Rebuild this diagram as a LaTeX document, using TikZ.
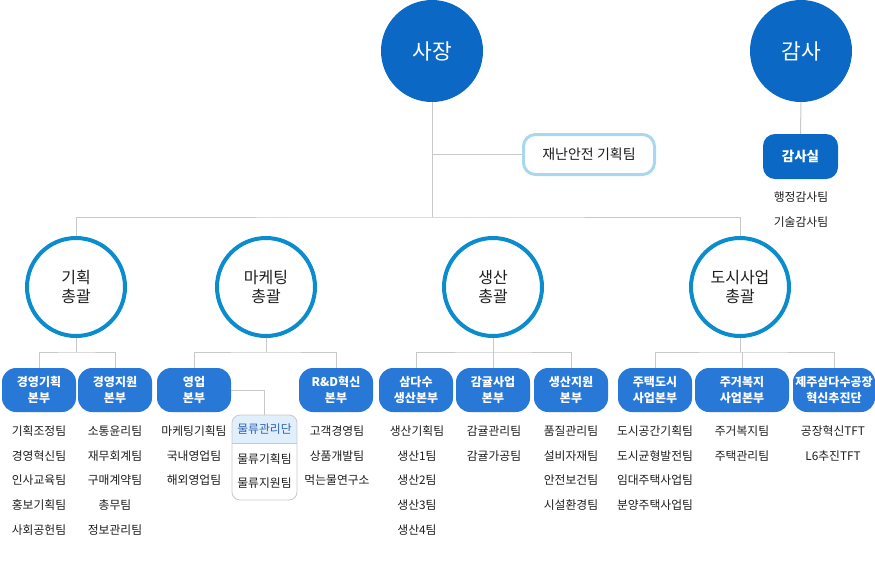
\documentclass[tikz,border=0pt]{standalone}
\usepackage{fontspec}
\setmainfont{Noto Sans CJK KR}
\usepackage{tikz}
\usetikzlibrary{positioning,calc}

\definecolor{ceoblue}{HTML}{0B68C4}
\definecolor{hqblue}{HTML}{2878D8}
\definecolor{ringblue}{HTML}{0A8CCD}
\definecolor{skyline}{HTML}{A8D8F0}
\definecolor{wire}{HTML}{C8C8C8}
\definecolor{logifill}{HTML}{E1EEFB}
\definecolor{logitext}{HTML}{2A62B4}
\definecolor{teamtext}{HTML}{1E1E1E}

\tikzset{
    chief/.style={circle, fill=ceoblue, text=white, minimum size=102pt, inner sep=0pt, font=\fontsize{21.5}{26}\selectfont},
    ring/.style={circle, draw=ringblue, line width=4pt, fill=white, minimum size=98pt, inner sep=0pt, align=center, text=teamtext, font=\fontsize{16}{19}\selectfont},
    hq/.style={rectangle, rounded corners=14pt, fill=hqblue, text=white, minimum width=74pt, minimum height=44pt, inner sep=0pt, align=center, font=\fontsize{12}{16}\selectfont\bfseries},
    office/.style={rectangle, rounded corners=12pt, fill=ceoblue, text=white, minimum width=75pt, minimum height=45pt, inner sep=0pt, font=\fontsize{13.5}{16}\selectfont\bfseries},
    safetybox/.style={rectangle, rounded corners=12pt, draw=skyline, line width=3pt, fill=white, minimum width=131pt, minimum height=40pt, inner sep=0pt, text=teamtext, font=\fontsize{14}{16}\selectfont},
    logibox/.style={rectangle, rounded corners=8pt, draw=wire, line width=0.8pt, minimum width=65pt, minimum height=85pt, inner sep=0pt},
    logihead/.style={inner sep=0pt, text=logitext, font=\fontsize{11.8}{14}\selectfont},
    team/.style={inner sep=0pt, text=teamtext, font=\fontsize{11.8}{14}\selectfont},
    link/.style={draw=wire, line width=1pt}
}

\begin{document}
\begin{tikzpicture}[x=1pt, y=-1pt]
    \useasboundingbox (0,0) rectangle (875,587);

    % top level
    \node[chief] (ceo) at (432,51) {사장};
    \node[chief] (audit) at (801,51) {감사};
    \node[safetybox] (safety) at (589,154.5) {재난안전 기획팀};
    \node[office] (auditoffice) at (800.5,156.5) {감사실};
    \node[team] (audit-1) at (801,197) {행정감사팀};
    \node[team] (audit-2) at (801,222) {기술감사팀};

    \coordinate (bus) at (432,217);
    \draw[link] (ceo.south) -- (bus);
    \draw[link] (ceo.south |- safety.west) -- (safety.west);
    \draw[link] (audit.south) -- (auditoffice.north);

    % divisions
    \node[ring] (plan) at (76,287) {기획\\총괄};
    \node[ring] (mkt) at (266,287) {마케팅\\총괄};
    \node[ring] (prod) at (493,287) {생산\\총괄};
    \node[ring] (city) at (740,287) {도시사업\\총괄};
    \draw[link] (plan.north) |- (bus) -| (city.north);

    % headquarters
    \node[hq] (mgmtplan) at (39,390) {경영기획\\본부};
    \node[hq] (mgmtsup) at (115,390) {경영지원\\본부};
    \node[hq] (sales) at (194,390) {영업\\본부};
    \node[hq] (rnd) at (336,390) {R\&D혁신\\본부};
    \node[hq] (samdasoo) at (416,390) {삼다수\\생산본부};
    \node[hq] (citrus) at (493,390) {감귤사업\\본부};
    \node[hq] (prodsup) at (571,390) {생산지원\\본부};
    \node[hq] (housing) at (655,390) {주택도시\\사업본부};
    \node[hq, minimum width=94pt] (welfare) at (742,390) {주거복지\\사업본부};
    \node[hq, minimum width=82pt] (factory) at (834,390) {제주삼다수공장\\혁신추진단};

    \coordinate (planfork) at (76,352);
    \coordinate (mktfork) at (266,352);
    \coordinate (prodfork) at (493,352);
    \coordinate (cityfork) at (742,352);
    \draw[link] (plan.south) -- (planfork);
    \draw[link] (mkt.south) -- (mktfork);
    \draw[link] (prod.south) -- (prodfork);
    \draw[link] (city.south) -- (city.south |- cityfork);
    \draw[link] (mgmtplan.north) |- (planfork) -| (mgmtsup.north);
    \draw[link] (sales.north) |- (mktfork) -| (rnd.north);
    \draw[link] (samdasoo.north) |- (prodfork) -| (prodsup.north);
    \draw[link] (citrus.north) -- (prodfork);
    \draw[link] (housing.north) |- (cityfork) -| (factory.north);
    \draw[link] (welfare.north) -- (cityfork);

    % logistics unit
    \begin{scope}
        \clip[rounded corners=8pt] (232,415) rectangle (297,500);
        \fill[logifill] (232,415) rectangle (297,443);
    \end{scope}
    \node[logibox] (logi) at (264.5,457.5) {};
    \coordinate (logisplit) at (264.5,443);
    \draw[draw=wire, line width=0.8pt] (logi.west |- logisplit) -- (logi.east |- logisplit);
    \node[logihead] (logihead) at (264.5,429.5) {물류관리단};
    \node[team] (logi-1) at (264.5,459) {물류기획팀};
    \node[team] (logi-2) at (264.5,483) {물류지원팀};
    \draw[link] (sales.east) -| (logi.north);

    % teams
    \foreach \t [count=\i] in {기획조정팀,경영혁신팀,인사교육팀,홍보기획팀,사회공헌팀}
        \node[team] (mgmtplan-\i) at (39,{406.3+24.7*\i}) {\t};
    \foreach \t [count=\i] in {소통윤리팀,재무회계팀,구매계약팀,총무팀,정보관리팀}
        \node[team] (mgmtsup-\i) at (115,{406.3+24.7*\i}) {\t};
    \foreach \t [count=\i] in {마케팅기획팀,국내영업팀,해외영업팀}
        \node[team] (sales-\i) at (194,{406.3+24.7*\i}) {\t};
    \foreach \t [count=\i] in {고객경영팀,상품개발팀,먹는물연구소}
        \node[team] (rnd-\i) at (337,{406.3+24.7*\i}) {\t};
    \foreach \t [count=\i] in {생산기획팀,생산1팀,생산2팀,생산3팀,생산4팀}
        \node[team] (samdasoo-\i) at (417,{406.3+24.7*\i}) {\t};
    \foreach \t [count=\i] in {감귤관리팀,감귤가공팀}
        \node[team] (citrus-\i) at (494,{406.3+24.7*\i}) {\t};
    \foreach \t [count=\i] in {품질관리팀,설비자재팀,안전보건팀,시설환경팀}
        \node[team] (prodsup-\i) at (571,{406.3+24.7*\i}) {\t};
    \foreach \t [count=\i] in {도시공간기획팀,도시균형발전팀,임대주택사업팀,분양주택사업팀}
        \node[team] (housing-\i) at (655,{406.3+24.7*\i}) {\t};
    \foreach \t [count=\i] in {주거복지팀,주택관리팀}
        \node[team] (welfare-\i) at (742,{406.3+24.7*\i}) {\t};
    \foreach \t [count=\i] in {공장혁신TFT,L6추진TFT}
        \node[team] (factory-\i) at (833,{406.3+24.7*\i}) {\t};
\end{tikzpicture}
\end{document}
